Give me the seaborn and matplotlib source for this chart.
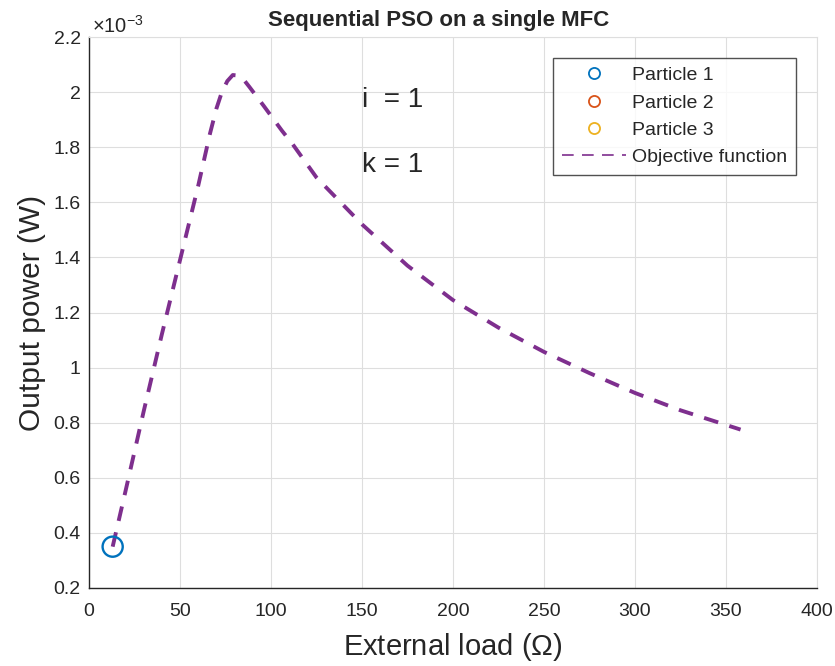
import numpy as np
import pandas as pd
import seaborn as sns
import matplotlib.pyplot as plt
from matplotlib.lines import Line2D
from matplotlib.ticker import FuncFormatter

# objective function (power in units of 1e-3 W)
load_ohm = [13, 20, 30, 40, 50, 60, 66.5, 70, 73, 76, 79, 82, 85, 88, 92,
            96, 101, 106, 112, 125, 150, 175, 200, 225, 250, 275, 300, 325,
            358]
power_mw = [0.35, 0.55, 0.84, 1.12, 1.39, 1.66, 1.85, 1.94, 2.0, 2.04, 2.062,
            2.06, 2.045, 2.02, 1.985, 1.95, 1.905, 1.86, 1.81, 1.69, 1.52,
            1.37, 1.245, 1.145, 1.057, 0.98, 0.908, 0.845, 0.775]

# particle positions (only particle 1 shows)
p1_load = [13]
p1_power_mw = [0.35]

particle_names = ["Particle 1", "Particle 2", "Particle 3"]
particle_colors = ["#0072BD", "#D95319", "#EDB120"]
curve_color = "#7E2F8E"

x_ticks = list(range(0, 401, 50))
y_ticks_mw = [0.2, 0.4, 0.6, 0.8, 1.0, 1.2, 1.4, 1.6, 1.8, 2.0, 2.2]

sns.set_style("white")
plt.rcParams["font.family"] = ["Liberation Sans", "DejaVu Sans"]
plt.rcParams["mathtext.fontset"] = "custom"
plt.rcParams["mathtext.rm"] = "Liberation Sans"
plt.rcParams["mathtext.it"] = "Liberation Sans:italic"

df = pd.DataFrame({"load": load_ohm, "power": np.array(power_mw) * 1e-3})
dfp = pd.DataFrame({"load": p1_load, "power": np.array(p1_power_mw) * 1e-3})

fig = plt.figure(figsize=(8.35, 6.66), dpi=100)
ax = fig.add_axes([89 / 835, 1 - 588 / 666, 728 / 835, 551 / 666])

sns.lineplot(data=df, x="load", y="power", ax=ax, color=curve_color,
             linewidth=2.8, sort=False)
ax.lines[-1].set_dashes((3.8, 3.0))
ax.lines[-1].set_dash_capstyle("butt")

sns.scatterplot(data=dfp, x="load", y="power", ax=ax, s=210, marker="o",
                facecolors="none", edgecolors=particle_colors[0],
                linewidths=1.7, zorder=3)

ax.set_xlim(0, 400)
ax.set_ylim(0.2e-3, 2.2e-3)
ax.set_xticks(x_ticks)
ax.set_yticks([v * 1e-3 for v in y_ticks_mw])
ax.yaxis.set_major_formatter(FuncFormatter(lambda v, p: f"{v * 1e3:g}"))

ax.grid(True, color="#dedede", linewidth=0.8)
for side in ["top", "right"]:
    ax.spines[side].set_color("#dedede")
    ax.spines[side].set_linewidth(0.8)
for side in ["left", "bottom"]:
    ax.spines[side].set_color("#262626")
    ax.spines[side].set_linewidth(1.0)
ax.tick_params(axis="both", direction="in", length=4, width=1.0,
               colors="#262626", labelsize=14, top=False, right=False)
ax.tick_params(axis="x", pad=11)
ax.tick_params(axis="y", pad=6)

ax.set_xlabel("External load ($\\Omega$)", fontsize=21, color="#262626",
              labelpad=8)
ax.set_ylabel("Output power (W)", fontsize=21.5, color="#262626",
              labelpad=5)
ax.set_title("Sequential PSO on a single MFC", fontsize=16,
             fontweight="bold", pad=8, x=0.48)

ax.text(0.004, 1.008, "$\\times10^{-3}$", transform=ax.transAxes,
        fontsize=14.5, color="#262626", ha="left", va="baseline")

ax.text(150, 1.973e-3, "i  = 1", fontsize=20, ha="left", va="center")
ax.text(150, 1.735e-3, "k = 1", fontsize=20, ha="left", va="center")

handles = [Line2D([], [], linestyle="none", marker="o", markersize=8,
                  markerfacecolor="none", markeredgecolor=c,
                  markeredgewidth=1.3) for c in particle_colors]
handles.append(Line2D([], [], color=curve_color, linewidth=1.2,
                      dashes=(7, 5)))
leg = ax.legend(handles, particle_names + ["Objective function"],
                loc="upper right", bbox_to_anchor=(0.971, 0.962),
                fontsize=14, frameon=True, fancybox=False,
                handlelength=3.3, handletextpad=0.3, labelspacing=0.5,
                borderpad=0.45, borderaxespad=0)
leg.get_frame().set_edgecolor("#262626")
leg.get_frame().set_linewidth(1.0)
for t in leg.get_texts():
    t.set_color("#262626")

fig.savefig("out.png", dpi=100)
